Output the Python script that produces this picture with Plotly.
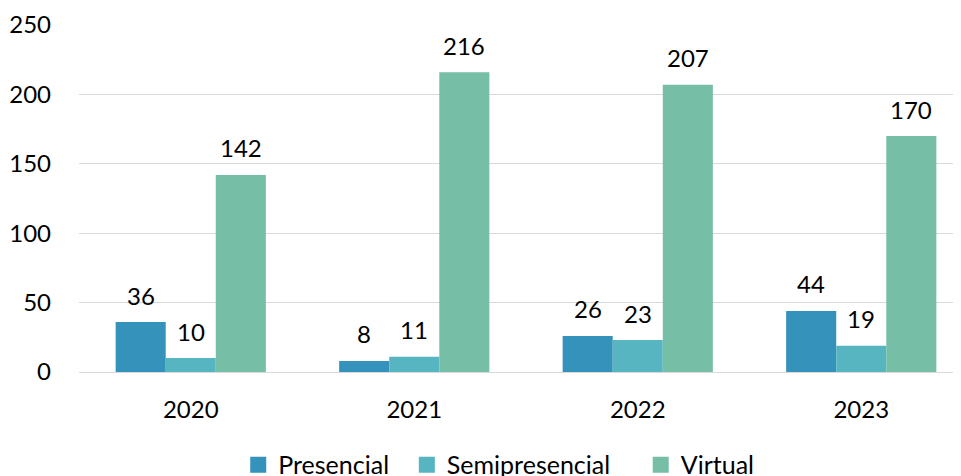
import plotly.graph_objects as go

years = ["2020", "2021", "2022", "2023"]
series_names = ["Presencial", "Semipresencial", "Virtual"]
presencial = [36, 8, 26, 44]
semipresencial = [10, 11, 23, 19]
virtual = [142, 216, 207, 170]
values = [presencial, semipresencial, virtual]
colors = ["#3592BA", "#56B5C0", "#76BFA6"]

FONT = "Lato, Carlito, Calibri, sans-serif"
FS = 24
W, H = 966, 476
NB = "\u00a0"
legend_pad = [2, 4, 0]  # extra spacing after each legend entry

fig = go.Figure()
for name, vals, col in zip(series_names, values, colors):
    fig.add_trace(go.Bar(name=name, x=years, y=vals, showlegend=False,
                         marker=dict(color=col, line=dict(width=0))))
# legend proxies with larger square swatches
for name, col, pad in zip(series_names, colors, legend_pad):
    fig.add_trace(go.Scatter(name=name + NB * pad, x=[None], y=[None], mode="markers",
                             marker=dict(symbol="square", size=16, color=col, line=dict(width=0))))

offsets = [-50, 0, 50]
for vals, off in zip(values, offsets):
    for i, v in enumerate(vals):
        fig.add_annotation(x=i, y=v, text=str(v), showarrow=False, xshift=off, yshift=27,
                           yanchor="middle", font=dict(family=FONT, size=FS, color="#000000"))

fig.update_layout(
    width=W, height=H,
    margin=dict(l=71, r=1, t=17, b=112, autoexpand=False),
    barmode="group", bargap=0.328, bargroupgap=0,
    plot_bgcolor="white", paper_bgcolor="white",
    font=dict(family=FONT, size=FS, color="#000000"),
    legend=dict(orientation="h", xref="container", x=0.508, xanchor="center",
                yref="container", y=0.04, yanchor="middle",
                font=dict(family=FONT, size=25), traceorder="normal", itemsizing="trace"),
    yaxis=dict(range=[0, 250], dtick=50, showgrid=True, gridcolor="#D9D9D9", gridwidth=1,
               zeroline=True, zerolinecolor="#D9D9D9", zerolinewidth=1, showline=False,
               ticks="", ticklabelstandoff=27, tickfont=dict(family=FONT, size=FS), automargin=False),
    xaxis=dict(type="category", range=[-0.5, 3.5], showline=False, ticks="", ticklabelstandoff=21,
               tickfont=dict(family=FONT, size=FS), automargin=False),
)

fig.write_html("out.html")
